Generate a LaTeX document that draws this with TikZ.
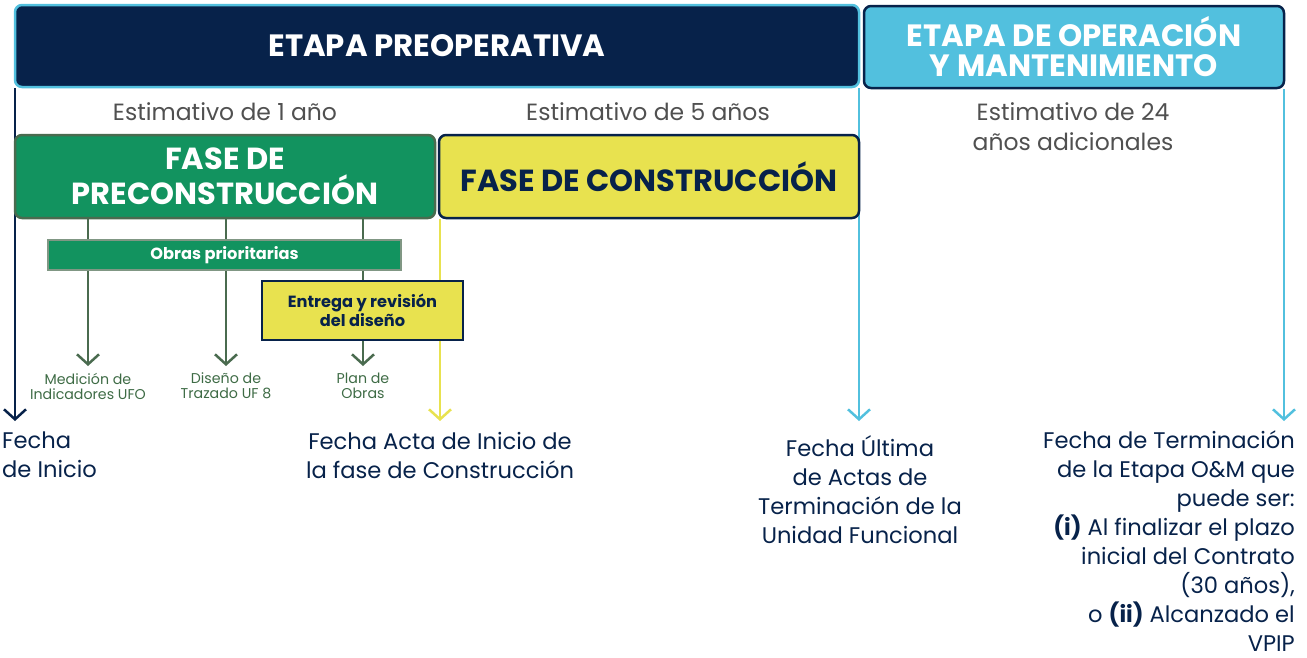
\documentclass[tikz,border=0pt]{standalone}
\usepackage{fontspec}
\setmainfont{Poppins}
\usetikzlibrary{arrows.meta,backgrounds}
\definecolor{navy}{HTML}{07224A}
\definecolor{lblue}{HTML}{52C0DE}
\definecolor{fgreen}{HTML}{12935F}
\definecolor{dgreen}{HTML}{4A6B4F}
\definecolor{tgreen}{HTML}{3E6B45}
\definecolor{fyellow}{HTML}{E8E24F}
\definecolor{tgray}{HTML}{505050}
\tikzset{
  stagebox/.style={rounded corners=7pt, line width=2.5pt, text=white, font=\bfseries\fontsize{30.8}{30}\selectfont, align=center, inner sep=0pt},
  phasebox/.style={rounded corners=7pt, line width=2.5pt, font=\bfseries\fontsize{30.5}{35}\selectfont, align=center, inner sep=0pt},
  subbox/.style={line width=2pt, font=\bfseries\fontsize{16.2}{19}\selectfont, align=center, inner sep=0pt},
  estim/.style={text=tgray, font=\fontsize{23.5}{30}\selectfont, align=center},
  small/.style={text=tgreen, font=\fontsize{14.2}{15}\selectfont, align=center, inner sep=0pt},
  datelbl/.style={text=navy, font=\fontsize{22.6}{29}\selectfont, inner sep=0pt},
  tl/.style={line width=2.5pt, -{Straight Barb[length=10pt,width=22pt,line width=2.5pt]}},
  gl/.style={line width=2.5pt, draw=dgreen, -{Straight Barb[length=10pt,width=22pt,line width=2.5pt]}}
}
\begin{document}
\begin{tikzpicture}[x=1pt,y=-1pt]
\useasboundingbox (0,0) rectangle (1307,657);
% stage boxes
\node[stagebox, fill=navy, draw=lblue, minimum width=844pt, minimum height=82pt] (preop) at (437,46) {ETAPA PREOPERATIVA};
\node[stagebox, fill=lblue, draw=navy, minimum width=420pt, minimum height=82pt] (om) at (1074,47) {ETAPA DE OPERACIÓN\\Y MANTENIMIENTO};
% phase boxes
\node[phasebox, fill=fgreen, draw=dgreen, text=white, minimum width=420pt, minimum height=83pt] (precon) at (225,176.5) {FASE DE\\PRECONSTRUCCIÓN};
\node[phasebox, fill=fyellow, draw=navy, text=navy, minimum width=420pt, minimum height=83pt] (con) at (649,176.5) {FASE DE CONSTRUCCIÓN};
% sub boxes
\node[subbox, fill=fgreen, draw=dgreen!70!white, text=white, minimum width=353pt, minimum height=30pt] (obras) at (224.5,255) {Obras prioritarias};
\node[subbox, fill=fyellow, draw=navy, text=navy, minimum width=201pt, minimum height=59pt] (entrega) at (362.5,310.5) {Entrega y revisión\\del diseño};
% estimates
\node[estim] (e1) at (225,112) {Estimativo de 1 año};
\node[estim] (e5) at (648,112) {Estimativo de 5 años};
\node[estim] (e24) at (1073,127) {Estimativo de 24\\años adicionales};
% arrow ends
\coordinate (t1) at (15,421);
\coordinate (t2) at (440,421);
\coordinate (t3) at (859,421);
\coordinate (t4) at (1284,421);
\coordinate (m1) at (88,366);
\coordinate (m2) at (226,366);
\coordinate (m3) at (363,366);
\begin{pgfonlayer}{background}
\draw[tl, draw=navy] (preop.south west -| t1) -- (t1);
\draw[tl, draw=fyellow] (con.south west -| t2) -- (t2);
\draw[tl, draw=lblue] (preop.south east -| t3) -- (t3);
\draw[tl, draw=lblue] (om.south east -| t4) -- (t4);
\draw[gl] (precon.south -| m1) -- (m1);
\draw[gl] (precon.south -| m2) -- (m2);
\draw[gl] (precon.south -| m3) -- (m3);
\end{pgfonlayer}
% small labels
\node[small] (l1) at (88,386) {Medición de\\Indicadores UFO};
\node[small] (l2) at (226,386) {Diseño de\\Trazado UF 8};
\node[small] (l3) at (363,386) {Plan de\\Obras};
% date labels
\node[datelbl, align=left, anchor=west] (d1) at (2,455) {Fecha\\de Inicio};
\node[datelbl, align=center] (d2) at (440,455) {Fecha Acta de Inicio de\\la fase de Construcción};
\node[datelbl, align=center] (d3) at (860,489.5) {Fecha Última\\de Actas de\\Terminación de la\\Unidad Funcional};
\node[datelbl, align=right, anchor=east] (d4) at (1295,541) {Fecha de Terminación\\de la Etapa O\&M que\\puede ser:\\\textbf{(i)} Al finalizar el plazo\\inicial del Contrato\\(30 años),\\o \textbf{(ii)} Alcanzado el\\VPIP};
\end{tikzpicture}
\end{document}
